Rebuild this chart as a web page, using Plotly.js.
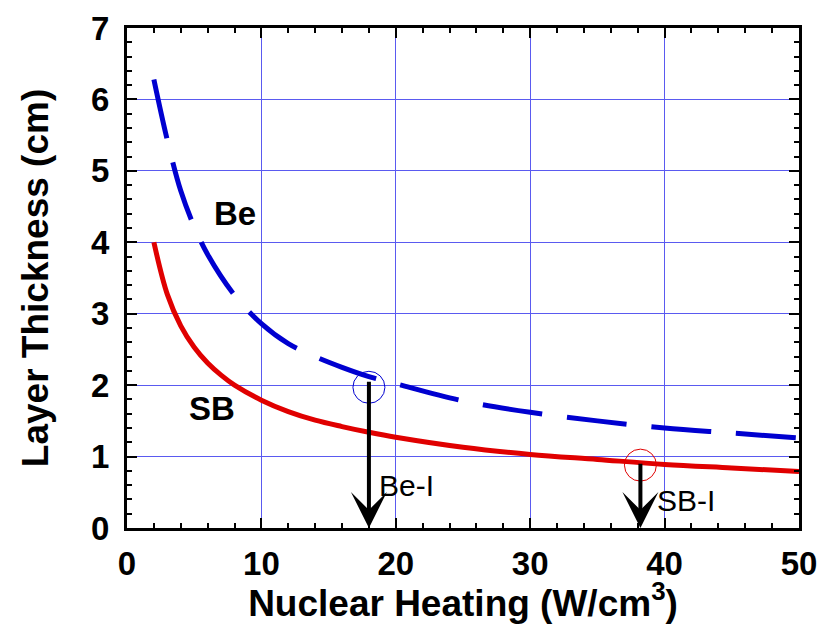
<!DOCTYPE html>
<html>
<head>
<meta charset="utf-8">
<script src="https://cdn.plot.ly/plotly-3.0.1.min.js"></script>
<style>html,body{margin:0;padding:0;background:#fff}#chart{width:820px;height:624px}</style>
</head>
<body>
<div id="chart"></div>
<script>
// Nuclear heating (W/cm^3)
const sbHeating = [2, 3, 4, 5, 6, 7, 8, 10, 12, 14, 16, 18, 20, 25, 30, 35, 40, 45, 50];
const sbThickness = [4.0, 3.27, 2.83, 2.53, 2.31, 2.14, 2.0, 1.79, 1.63, 1.51, 1.42, 1.34, 1.27, 1.13, 1.03, 0.96, 0.89, 0.84, 0.79];

const beHeating = [2, 3, 4, 5, 6, 8, 10, 12, 14, 16, 18, 20, 25, 30, 35, 40, 45, 50];
const beThickness = [6.28, 5.43, 4.72, 4.22, 3.83, 3.26, 2.86, 2.58, 2.4, 2.25, 2.12, 2.02, 1.78, 1.62, 1.5, 1.4, 1.33, 1.26];

// Design points (circle + arrow)
const designNames = ["Be-I", "SB-I"];
const designHeating = [18.0, 38.2];
const designThickness = [1.97, 0.88];
const arrowTop = [2.07, 0.92];
const designColors = ["#0000d0", "#e00000"];
const labelPos = [[20.8, 0.60], [41.6, 0.39]];

const curveLabels = ["Be", "SB"];
const curveLabelPos = [[8.0, 4.41], [6.3, 1.67]];

const xTicks = [0, 10, 20, 30, 40, 50];
const yTicks = [0, 1, 2, 3, 4, 5, 6, 7];

const FONT = "Arial, 'Liberation Sans', sans-serif";

const traces = [
  {x: sbHeating, y: sbThickness, mode: "lines", name: "SB",
   line: {color: "#e00000", width: 5, shape: "spline"}},
  {x: beHeating, y: beThickness, mode: "lines", name: "Be",
   line: {color: "#0000d0", width: 5, dash: "60px,25px", shape: "spline"}}
];

const annotations = [];
designNames.forEach((n, i) => {
  annotations.push({
    x: designHeating[i], y: 0, xref: "x", yref: "y",
    ax: designHeating[i], ay: arrowTop[i], axref: "x", ayref: "y",
    showarrow: true, arrowhead: 3, arrowsize: 1.5, arrowwidth: 4,
    arrowcolor: "#000", standoff: 0, text: ""
  });
  annotations.push({
    x: labelPos[i][0], y: labelPos[i][1], xref: "x", yref: "y",
    text: n, showarrow: false,
    font: {family: FONT, size: 30, color: "#000"}
  });
});
curveLabels.forEach((n, i) => {
  annotations.push({
    x: curveLabelPos[i][0], y: curveLabelPos[i][1], xref: "x", yref: "y",
    text: "<b>" + n + "</b>", showarrow: false,
    font: {family: FONT, size: 33, color: "#000"}
  });
});

const shapes = designNames.map((n, i) => ({
  type: "circle", xref: "x", yref: "y",
  xsizemode: "pixel", ysizemode: "pixel",
  xanchor: designHeating[i], yanchor: designThickness[i],
  x0: -16, x1: 16, y0: -16, y1: 16,
  line: {color: designColors[i], width: 1}
}));

const axisCommon = {
  showline: true, linecolor: "#000", linewidth: 3, mirror: "ticks",
  ticks: "inside", ticklen: 10, tickwidth: 2, tickcolor: "#000",
  showgrid: true, gridcolor: "#5a5af0", gridwidth: 1,
  zeroline: false,
  tickfont: {family: FONT, size: 33, color: "#000", weight: "bold"}
};

const layout = {
  width: 820, height: 624,
  margin: {l: 127, r: 21, t: 28, b: 96},
  paper_bgcolor: "#fff", plot_bgcolor: "#fff",
  showlegend: false,
  xaxis: Object.assign({}, axisCommon, {
    range: [0, 50], tickvals: xTicks, ticktext: xTicks.map(String),
    minor: {dtick: 2, ticks: "inside", ticklen: 5, tickwidth: 2, tickcolor: "#000", showgrid: false},
    ticklabelstandoff: 4,
    title: {text: "<b>Nuclear Heating (W/cm<sup>3</sup>)</b>", standoff: 9,
            font: {family: FONT, size: 37, color: "#000"}}
  }),
  yaxis: Object.assign({}, axisCommon, {
    range: [0, 7], tickvals: yTicks, ticktext: yTicks.map(String),
    minor: {dtick: 0.2, ticks: "inside", ticklen: 5, tickwidth: 2, tickcolor: "#000", showgrid: false},
    ticklabelstandoff: 8,
    title: {text: "<b>Layer Thickness (cm)</b>", standoff: 32,
            font: {family: FONT, size: 37, color: "#000"}}
  }),
  annotations: annotations,
  shapes: shapes
};

Plotly.newPlot("chart", traces, layout, {staticPlot: true, displayModeBar: false});
</script>
</body>
</html>
